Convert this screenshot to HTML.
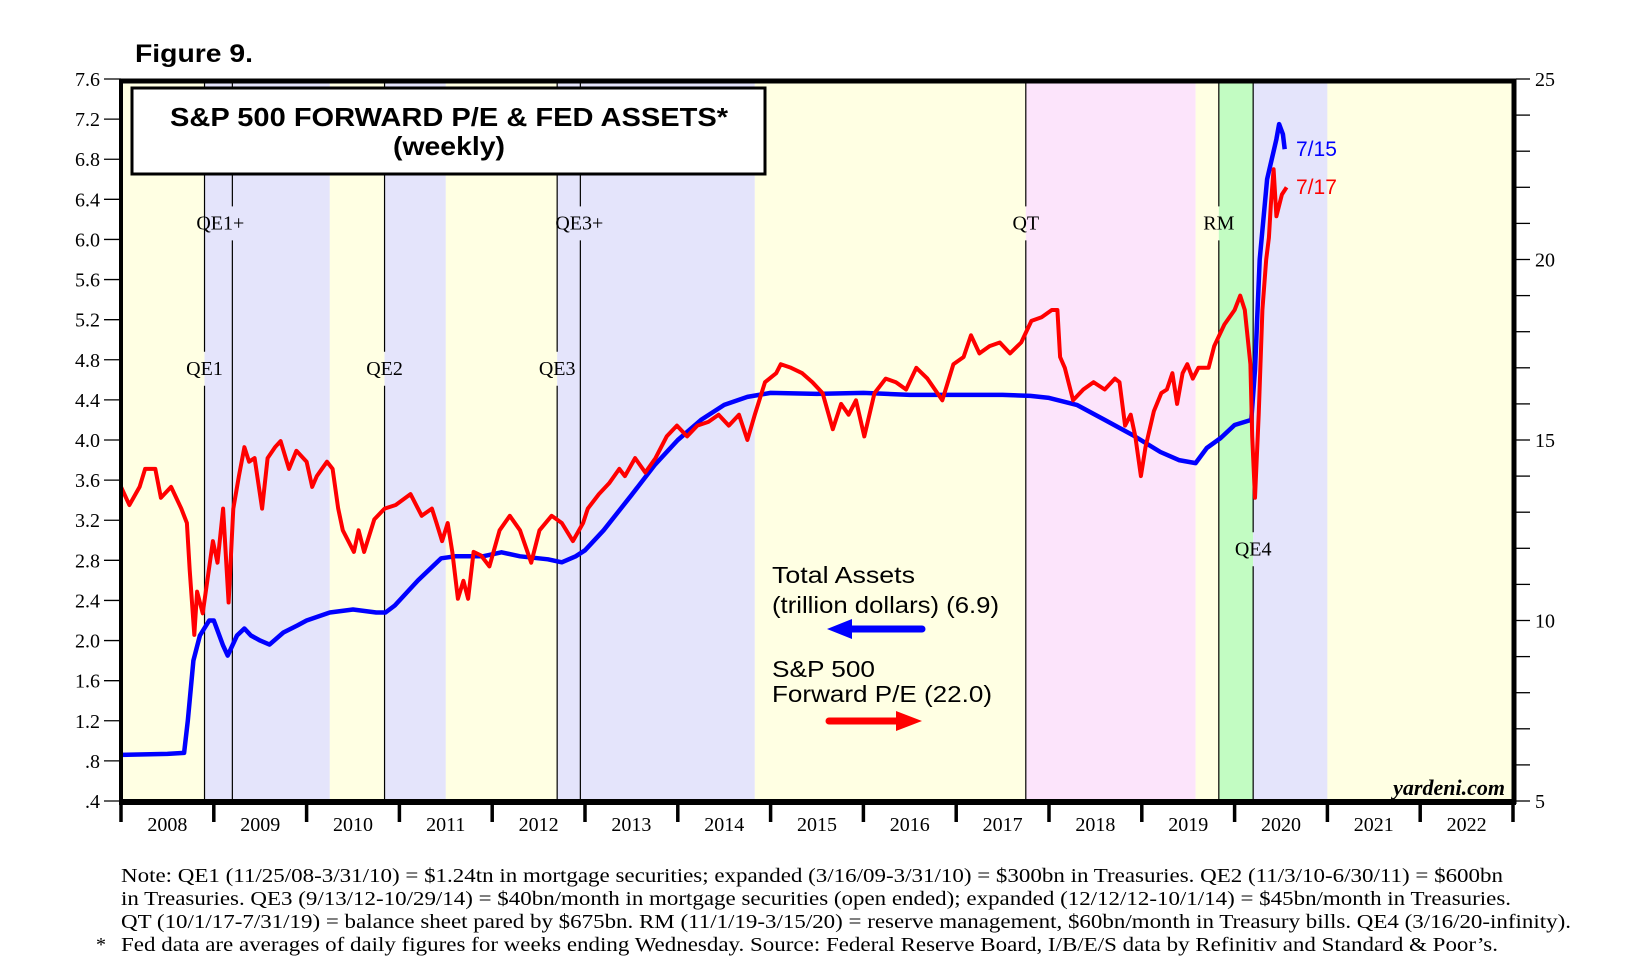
<!DOCTYPE html>
<html><head><meta charset="utf-8"><style>
html,body{margin:0;padding:0;background:#fff;}
svg{display:block;}
</style></head><body>
<svg id="chart" width="1634" height="977" viewBox="0 0 1634 977" xmlns="http://www.w3.org/2000/svg">
<text x="135" y="62" font-family="Liberation Sans, sans-serif" font-weight="bold" font-size="25" textLength="118" lengthAdjust="spacingAndGlyphs">Figure 9.</text>
<g id="bg"></g>
<g id="vlines"></g>
<g id="series"></g>
<g id="axes"></g>
<rect x="132" y="88" width="633" height="86" fill="#fff" stroke="#000" stroke-width="3"/>
<text x="449" y="126" text-anchor="middle" font-family="Liberation Sans, sans-serif" font-weight="bold" font-size="26" textLength="558" lengthAdjust="spacingAndGlyphs">S&amp;P 500 FORWARD P/E &amp; FED ASSETS*</text>
<text x="449" y="155" text-anchor="middle" font-family="Liberation Sans, sans-serif" font-weight="bold" font-size="26" textLength="112" lengthAdjust="spacingAndGlyphs">(weekly)</text>
<g font-family="Liberation Sans, sans-serif" font-size="23">
<text x="772" y="583" textLength="143" lengthAdjust="spacingAndGlyphs">Total Assets</text>
<text x="772" y="613" textLength="227" lengthAdjust="spacingAndGlyphs">(trillion dollars) (6.9)</text>
<g><line x1="842" y1="629" x2="922" y2="629" stroke="#0000ff" stroke-width="7" stroke-linecap="round"/><polygon points="827,629 852,619 852,639" fill="#0000ff"/></g>
<text x="772" y="677" textLength="103" lengthAdjust="spacingAndGlyphs">S&amp;P 500</text>
<text x="772" y="702" textLength="220" lengthAdjust="spacingAndGlyphs">Forward P/E (22.0)</text>
<g><line x1="829" y1="721" x2="905" y2="721" stroke="#ff0000" stroke-width="7" stroke-linecap="round"/><polygon points="922,721 896,711 896,731" fill="#ff0000"/></g>
</g>
<text x="1296" y="156" fill="#0000ff" font-family="Liberation Sans, sans-serif" font-size="21">7/15</text>
<text x="1296" y="194" fill="#ff0000" font-family="Liberation Sans, sans-serif" font-size="21">7/17</text>
<text x="1505" y="795" text-anchor="end" font-family="Liberation Serif, serif" font-style="italic" font-weight="bold" font-size="22">yardeni.com</text>
<g font-family="Liberation Serif, serif" font-size="20">
<text x="121" y="882" textLength="1382" lengthAdjust="spacingAndGlyphs">Note: QE1 (11/25/08-3/31/10) = $1.24tn in mortgage securities; expanded (3/16/09-3/31/10) = $300bn in Treasuries. QE2 (11/3/10-6/30/11) = $600bn</text>
<text x="121" y="905" textLength="1390" lengthAdjust="spacingAndGlyphs">in Treasuries. QE3 (9/13/12-10/29/14) = $40bn/month in mortgage securities (open ended); expanded (12/12/12-10/1/14) = $45bn/month in Treasuries.</text>
<text x="121" y="928" textLength="1450" lengthAdjust="spacingAndGlyphs">QT (10/1/17-7/31/19) = balance sheet pared by $675bn. RM (11/1/19-3/15/20) = reserve management, $60bn/month in Treasury bills. QE4 (3/16/20-infinity).</text>
<text x="96" y="951">*</text>
<text x="121" y="951" textLength="1377" lengthAdjust="spacingAndGlyphs">Fed data are averages of daily figures for weeks ending Wednesday. Source: Federal Reserve Board, I/B/E/S data by Refinitiv and Standard &amp; Poor’s.</text>
</g>
</svg>
<script>
// ---- data ----
const assetYears = [2008.0,2008.5,2008.68,2008.72,2008.78,2008.85,2008.95,2009.0,2009.1,2009.15,2009.25,2009.33,2009.4,2009.5,2009.6,2009.75,2009.9,2010.0,2010.25,2010.5,2010.75,2010.85,2010.95,2011.2,2011.45,2011.6,2011.9,2012.1,2012.3,2012.6,2012.75,2012.9,2013.0,2013.2,2013.5,2013.75,2014.0,2014.25,2014.5,2014.75,2015.0,2015.5,2016.0,2016.5,2017.0,2017.5,2017.8,2018.0,2018.3,2018.6,2018.9,2019.2,2019.4,2019.58,2019.7,2019.85,2020.0,2020.18,2020.22,2020.27,2020.35,2020.45,2020.48,2020.52,2020.54];
const assetValues = [0.86,0.87,0.88,1.2,1.8,2.05,2.2,2.2,1.95,1.85,2.05,2.12,2.05,2.0,1.96,2.08,2.15,2.2,2.28,2.31,2.28,2.28,2.35,2.6,2.82,2.84,2.84,2.88,2.84,2.81,2.78,2.84,2.9,3.1,3.45,3.75,4.0,4.2,4.35,4.43,4.47,4.46,4.47,4.45,4.45,4.45,4.44,4.42,4.35,4.2,4.05,3.88,3.8,3.77,3.92,4.02,4.15,4.2,4.7,5.8,6.6,7.0,7.15,7.05,6.9];
const peYears = [2008.0,2008.09,2008.2,2008.26,2008.37,2008.43,2008.54,2008.65,2008.71,2008.74,2008.79,2008.82,2008.88,2008.93,2008.99,2009.04,2009.1,2009.16,2009.21,2009.27,2009.33,2009.38,2009.44,2009.52,2009.58,2009.66,2009.72,2009.81,2009.89,2010.0,2010.06,2010.11,2010.22,2010.28,2010.34,2010.39,2010.51,2010.56,2010.62,2010.73,2010.84,2010.96,2011.12,2011.24,2011.35,2011.4,2011.46,2011.52,2011.57,2011.63,2011.69,2011.74,2011.8,2011.88,2011.97,2012.08,2012.19,2012.3,2012.42,2012.51,2012.64,2012.75,2012.87,2012.98,2013.03,2013.15,2013.26,2013.37,2013.43,2013.54,2013.65,2013.76,2013.88,2013.99,2014.1,2014.21,2014.33,2014.44,2014.55,2014.66,2014.75,2014.83,2014.94,2015.06,2015.11,2015.22,2015.34,2015.45,2015.56,2015.67,2015.76,2015.84,2015.92,2016.01,2016.12,2016.24,2016.35,2016.46,2016.57,2016.69,2016.85,2016.97,2017.08,2017.16,2017.25,2017.36,2017.47,2017.58,2017.7,2017.81,2017.92,2018.03,2018.09,2018.12,2018.17,2018.26,2018.37,2018.48,2018.6,2018.71,2018.76,2018.82,2018.88,2018.93,2018.99,2019.04,2019.13,2019.21,2019.27,2019.33,2019.38,2019.44,2019.49,2019.55,2019.61,2019.72,2019.78,2019.89,2020.0,2020.06,2020.11,2020.17,2020.19,2020.22,2020.26,2020.3,2020.34,2020.37,2020.39,2020.42,2020.45,2020.51,2020.56];
const peValues = [13.7,13.2,13.7,14.2,14.2,13.4,13.7,13.1,12.7,11.4,9.6,10.8,10.2,11.1,12.2,11.6,13.1,10.5,13.1,14.0,14.8,14.4,14.5,13.1,14.5,14.8,14.97,14.2,14.7,14.4,13.7,14.0,14.4,14.2,13.1,12.5,11.9,12.5,11.9,12.8,13.1,13.2,13.5,12.9,13.1,12.7,12.2,12.7,11.9,10.6,11.1,10.6,11.9,11.8,11.5,12.5,12.9,12.5,11.6,12.5,12.9,12.7,12.2,12.7,13.1,13.5,13.8,14.2,14.0,14.5,14.1,14.5,15.1,15.4,15.1,15.4,15.5,15.7,15.4,15.7,15.0,15.7,16.6,16.85,17.1,17.0,16.85,16.6,16.3,15.3,16.0,15.7,16.1,15.1,16.3,16.7,16.6,16.4,17.0,16.7,16.1,17.1,17.3,17.9,17.4,17.6,17.7,17.4,17.7,18.3,18.4,18.6,18.6,17.3,17.0,16.1,16.4,16.6,16.4,16.7,16.6,15.4,15.7,15.1,14.0,14.8,15.8,16.3,16.4,16.85,16.0,16.85,17.1,16.7,17.0,17.0,17.6,18.2,18.6,19.0,18.6,17.1,15.1,13.4,15.7,18.6,20.0,20.6,21.5,22.5,21.2,21.8,22.0];
const leftTicks = [0.4,0.8,1.2,1.6,2.0,2.4,2.8,3.2,3.6,4.0,4.4,4.8,5.2,5.6,6.0,6.4,6.8,7.2,7.6];
const leftTickLabels = [".4",".8","1.2","1.6","2.0","2.4","2.8","3.2","3.6","4.0","4.4","4.8","5.2","5.6","6.0","6.4","6.8","7.2","7.6"];
const rightTickLabels = [5,10,15,20,25];
const yearLabels = [2008,2009,2010,2011,2012,2013,2014,2015,2016,2017,2018,2019,2020,2021,2022];
const bandStarts = [2008.0,2008.9,2010.25,2010.84,2011.5,2012.7,2014.83,2017.75,2019.58,2019.83,2020.2,2021.0];
const bandEnds   = [2008.9,2010.25,2010.84,2011.5,2012.7,2014.83,2017.75,2019.58,2019.83,2020.2,2021.0,2023.0];
const bandKinds  = ["yellow","lavender","yellow","lavender","yellow","lavender","yellow","pink","yellow","green","lavender","yellow"];
const eventNames = ["QE1","QE1+","QE2","QE3","QE3+","QT","RM","QE4"];
const eventDates = [2008.9,2009.2,2010.84,2012.7,2012.95,2017.75,2019.83,2020.2];
const eventLabelLevel = [4.72,6.17,4.72,4.72,6.17,6.17,6.17,2.92];

// ---- scales ----
const X0=121, X1=1513, Y0=801, YT=79;
const x = yr => X0 + (yr-2008)*(X1-X0)/15;
const yL = v => Y0 - (v-0.4)*(Y0-YT)/7.2;
const yR = v => Y0 - (v-5)*(Y0-YT)/20;
const NS="http://www.w3.org/2000/svg";
function mk(tag, attrs, parent){const e=document.createElementNS(NS,tag);for(const k in attrs)e.setAttribute(k,attrs[k]);parent.appendChild(e);return e;}
const colors={yellow:"#ffffe3",lavender:"#e4e4fb",pink:"#fce4fb",green:"#c2fcc2"};

const bg=document.getElementById('bg');
for(let i=0;i<bandStarts.length;i++){
  const a=Math.max(x(bandStarts[i]),X0), b=Math.min(x(bandEnds[i]),X1);
  const r=mk('rect',{x:a,y:82,width:b-a,height:Y0-82,fill:colors[bandKinds[i]]},bg);
  
  
}
const vl=document.getElementById('vlines');
for(let i=0;i<eventNames.length;i++){
  const xx=x(eventDates[i]), ly=yL(eventLabelLevel[i]);
  const g=mk('g',{},vl);
  
  
  mk('line',{x1:xx,y1:82,x2:xx,y2:ly-16,stroke:"#000","stroke-width":1.2},g);
  mk('line',{x1:xx,y1:ly+18,x2:xx,y2:Y0,stroke:"#000","stroke-width":1.2},g);
  const t=mk('text',{x:xx,y:ly+7,"text-anchor":"middle","font-family":"Liberation Serif, serif","font-size":20},g);
  if(eventNames[i]==="QE1+"){t.setAttribute('x',xx-36);t.setAttribute('text-anchor','start');}
  if(eventNames[i]==="QE3+"){t.setAttribute('x',xx-25);t.setAttribute('text-anchor','start');}
  t.textContent=eventNames[i];
}
const se=document.getElementById('series');
const aPath=mk('path',{d:assetYears.map((yr,i)=>(i?'L':'M')+x(yr).toFixed(1)+','+yL(assetValues[i]).toFixed(1)).join(''),fill:"none",stroke:"#0000ff","stroke-width":4.5,"stroke-linejoin":"round"},se);


const pPath=mk('path',{d:peYears.map((yr,i)=>(i?'L':'M')+x(yr).toFixed(1)+','+yR(peValues[i]).toFixed(1)).join(''),fill:"none",stroke:"#ff0000","stroke-width":4,"stroke-linejoin":"round"},se);



const ax=document.getElementById('axes');
const fr=mk('g',{},ax);


mk('line',{x1:X0-2,y1:81,x2:X1+3,y2:81,stroke:"#000","stroke-width":5},fr);
mk('line',{x1:X0,y1:79,x2:X0,y2:Y0+3,stroke:"#000","stroke-width":4},fr);
mk('line',{x1:X1+1,y1:79,x2:X1+1,y2:Y0+3,stroke:"#000","stroke-width":5},fr);
mk('line',{x1:X0-2,y1:Y0+1,x2:X1+3,y2:Y0+1,stroke:"#000","stroke-width":6},fr);
const la=mk('g',{},ax);


leftTicks.forEach((v,i)=>{
  const yy=yL(v);
  mk('line',{x1:104,y1:yy,x2:X0,y2:yy,stroke:"#000","stroke-width":1.3},la);
  const t=mk('text',{x:100,y:yy+7,"text-anchor":"end","font-family":"Liberation Serif, serif","font-size":20},la);
  
  
  t.textContent=leftTickLabels[i];
});
const ra=mk('g',{},ax);


for(let v=5; v<=25; v++){
  const yy=yR(v);
  mk('line',{x1:X1+3,y1:yy,x2:1530,y2:yy,stroke:"#000","stroke-width":1.3},ra);
}
rightTickLabels.forEach(v=>{
  const t=mk('text',{x:1535,y:yR(v)+7,"font-family":"Liberation Serif, serif","font-size":20},ra);
  
  
  t.textContent=v;
});
const xa=mk('g',{},ax);


for(let k=0;k<=yearLabels.length;k++){
  const xx=x(2008+k);
  mk('line',{x1:xx,y1:Y0,x2:xx,y2:822,stroke:"#000","stroke-width":3.5},xa);
}
yearLabels.forEach(yr=>{
  const t=mk('text',{x:x(yr+0.5),y:831,"text-anchor":"middle","font-family":"Liberation Serif, serif","font-size":20},xa);
  
  
  t.textContent=yr;
});
</script>
</body></html>
